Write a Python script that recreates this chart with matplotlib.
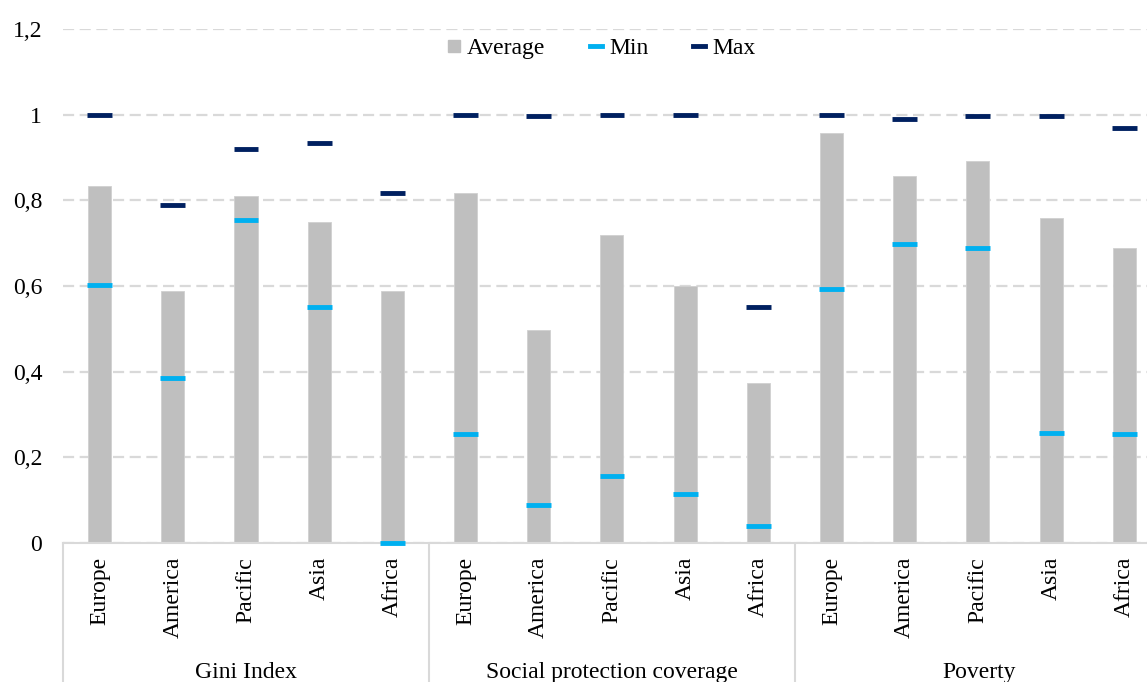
'''average, min and max of three indicators by region'''
import matplotlib
matplotlib.use('Agg')
import matplotlib.pyplot as plt
import numpy as np
from matplotlib.lines import Line2D
from matplotlib import rcParams
params = {'font.family': 'Liberation Serif', 'font.size': 17}
rcParams.update(params)

groups = ['Gini Index', 'Social protection coverage', 'Poverty']
regions = ['Europe', 'America', 'Pacific', 'Asia', 'Africa']

# one value per region, groups in the order above
avg_gini = [0.833, 0.588, 0.809, 0.749, 0.588]
min_gini = [0.603, 0.385, 0.753, 0.552, 0.0]
max_gini = [1.0, 0.788, 0.921, 0.935, 0.818]

avg_spc = [0.816, 0.498, 0.718, 0.600, 0.373]
min_spc = [0.254, 0.088, 0.156, 0.114, 0.039]
max_spc = [1.0, 0.998, 1.0, 1.0, 0.552]

avg_pov = [0.957, 0.856, 0.891, 0.758, 0.689]
min_pov = [0.592, 0.699, 0.688, 0.256, 0.254]
max_pov = [1.0, 0.991, 0.998, 0.998, 0.970]

yticks = [0, 0.2, 0.4, 0.6, 0.8, 1, 1.2]
ytick_labels = ['0', '0,2', '0,4', '0,6', '0,8', '1', '1,2']

avg = np.array(avg_gini + avg_spc + avg_pov)
vmin = np.array(min_gini + min_spc + min_pov)
vmax = np.array(max_gini + max_spc + max_pov)
labels = regions * len(groups)
x = np.arange(len(labels))

c_avg = '#bfbfbf'
c_min = '#00b0f0'
c_max = '#002060'
c_grid = '#d9d9d9'

fig = plt.figure(figsize=(11.47, 6.82), dpi=100)
ax = fig.add_axes([63 / 1147, 1 - 543 / 682, 1 - 63 / 1147, 514 / 682])

ax.bar(x, avg, width=0.315, color=c_avg, edgecolor='#d0d0d0', linewidth=0.6, zorder=2)
hw = 0.17
ax.hlines(vmin, x - hw, x + hw, color=c_min, lw=3.5, zorder=4, clip_on=False)
ax.hlines(vmax, x - hw, x + hw, color=c_max, lw=3.5, zorder=4, clip_on=False)

ax.set_ylim(0, 1.2)
ax.set_xlim(-0.5, 14.31)
ax.set_yticks(yticks)
ax.set_yticklabels(ytick_labels)
ax.yaxis.grid(True, color=c_grid, lw=1.6, linestyle=(0, (5, 2.5)), zorder=0)
ax.set_axisbelow(True)

for s in ['top', 'right', 'left']:
    ax.spines[s].set_visible(False)
ax.spines['bottom'].set_color(c_grid)
ax.spines['bottom'].set_linewidth(1.5)
ax.tick_params(axis='y', length=0, pad=15)
ax.tick_params(axis='x', length=0)
ax.set_xticks(x)
ax.set_xticklabels(labels, rotation=90, va='top', ha='center')
ax.tick_params(axis='x', pad=10)

# group separators and names under the category axis
trans = ax.get_xaxis_transform()
for k in range(len(groups) + 1):
    xs = k * 5 - 0.5
    ax.plot([xs, xs], [0, -0.4], transform=trans, color=c_grid, lw=1.5, clip_on=False)
for k, g in enumerate(groups):
    fig.text((63 + (k * 5 + 2.5) * 73.25) / 1147, 1 - 678 / 682, g,
             ha='center', va='baseline')

handles = [Line2D([], [], marker='s', linestyle='none', color=c_avg, markersize=8),
           Line2D([], [], color=c_min, lw=3.5),
           Line2D([], [], color=c_max, lw=3.5)]
fig.legend(handles, ['Average', 'Min', 'Max'], loc='center', ncol=3,
           bbox_to_anchor=(0.5245, 1 - 48 / 682), frameon=False,
           handlelength=0.5, handletextpad=0.3, columnspacing=1.9)

plt.savefig('out.png', dpi=100)
